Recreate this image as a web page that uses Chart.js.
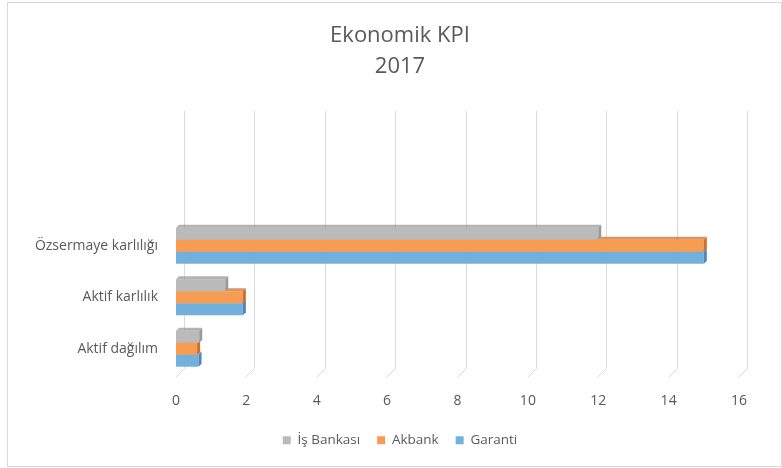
<!DOCTYPE html>
<html>
<head>
<meta charset="utf-8">
<script src="https://cdn.jsdelivr.net/npm/chart.js@4"></script>
<style>
  html, body { margin: 0; padding: 0; background: #fff; }
  #wrap { width: 782px; height: 468px; }
</style>
</head>
<body>
<div id="wrap"><canvas id="kpiChart" width="782" height="468"></canvas></div>
<script>
// categories top to bottom (two empty rows at the top, like the sheet)
const categories = ['', '', 'Özsermaye karlılığı', 'Aktif karlılık', 'Aktif dağılım'];
const isBankasi = [null, null, 12, 1.4, 0.66];
const akbank = [null, null, 15, 1.9, 0.6];
const garanti = [null, null, 15, 1.9, 0.64];
const xTicks = [0, 2, 4, 6, 8, 10, 12, 14, 16];

const textColor = '#595959';
const fontFamily = "'Open Sans', 'Noto Sans', sans-serif";
const depth = 3;

// side colours for the fake 3d look
const sideColors = ['#9a9a9a', '#c8722e', '#4f87b8'];

const frame = {
    id: 'frame',
    beforeDraw(chart) {
        const c = chart.ctx;
        c.save();
        c.fillStyle = '#fff';
        c.fillRect(0, 0, chart.width, chart.height);
        c.strokeStyle = '#d9d9d9';
        c.lineWidth = 1;
        c.strokeRect(7.5, 2.5, 774, 464);
        c.restore();
    },
    beforeDatasetsDraw(chart) {
        // back wall grid lines + slanted floor lines
        const c = chart.ctx;
        const x = chart.scales.x;
        const area = chart.chartArea;
        const off = 8;
        c.save();
        c.strokeStyle = '#d9d9d9';
        c.lineWidth = 1;
        xTicks.forEach(t => {
            const px = Math.round(x.getPixelForValue(t)) + 0.5;
            c.beginPath();
            c.moveTo(px + off, area.top - 6);
            c.lineTo(px + off, area.bottom - 6);
            c.lineTo(px - 1, area.bottom + 3);
            c.stroke();
        });
        c.restore();
    },
    afterDatasetDraw(chart, args) {
        const c = chart.ctx;
        const meta = args.meta;
        c.save();
        c.fillStyle = sideColors[args.index];
        meta.data.forEach(bar => {
            if (bar.skip || isNaN(bar.x)) return;
            const top = bar.y - bar.height / 2;
            const bottom = bar.y + bar.height / 2;
            const left = bar.base;
            const right = bar.x;
            if (right - left < 0.5) return;
            // top face
            c.beginPath();
            c.moveTo(left, top);
            c.lineTo(right, top);
            c.lineTo(right + depth, top - depth);
            c.lineTo(left + depth, top - depth);
            c.closePath();
            c.globalAlpha = 0.75;
            c.fill();
            // right face
            c.globalAlpha = 1;
            c.beginPath();
            c.moveTo(right, top);
            c.lineTo(right + depth, top - depth);
            c.lineTo(right + depth, bottom - depth);
            c.lineTo(right, bottom);
            c.closePath();
            c.fill();
        });
        c.restore();
    }
};

new Chart(document.getElementById('kpiChart').getContext('2d'), {
    type: 'bar',
    data: {
        labels: categories,
        datasets: [
            { label: 'İş Bankası', data: isBankasi, backgroundColor: '#bababa' },
            { label: 'Akbank', data: akbank, backgroundColor: '#f79c50' },
            { label: 'Garanti', data: garanti, backgroundColor: '#72b0de' }
        ]
    },
    options: {
        indexAxis: 'y',
        responsive: false,
        animation: false,
        categoryPercentage: 0.7,
        barPercentage: 1.0,
        layout: { padding: { left: 30, right: 12, top: 0, bottom: 11 } },
        scales: {
            x: {
                min: 0,
                max: 16,
                grid: { display: false },
                border: { display: false },
                afterBuildTicks: s => { s.ticks = xTicks.map(v => ({ value: v })); },
                afterFit: s => { s.height = 42; },
                ticks: { color: textColor, padding: 10, font: { family: fontFamily, size: 14 } }
            },
            y: {
                grid: { display: false },
                border: { display: false },
                afterFit: s => { s.width = 146; },
                ticks: { color: textColor, padding: 10, font: { family: fontFamily, size: 14 } }
            },
            // empty right axis, only keeps room on the right
            y2: {
                position: 'right',
                grid: { display: false },
                border: { display: false },
                ticks: { display: false },
                afterFit: s => { s.width = 31; }
            }
        },
        plugins: {
            title: {
                display: true,
                text: ['Ekonomik KPI', '2017'],
                color: textColor,
                font: { family: fontFamily, size: 22, weight: 'normal', lineHeight: 1.41 },
                padding: { top: 20, bottom: 35 }
            },
            legend: {
                position: 'bottom',
                labels: {
                    color: textColor,
                    font: { family: fontFamily, size: 13.5 },
                    boxWidth: 8,
                    boxHeight: 8,
                    padding: 17
                }
            },
            tooltip: { enabled: false }
        }
    },
    plugins: [frame]
});
</script>
</body>
</html>
